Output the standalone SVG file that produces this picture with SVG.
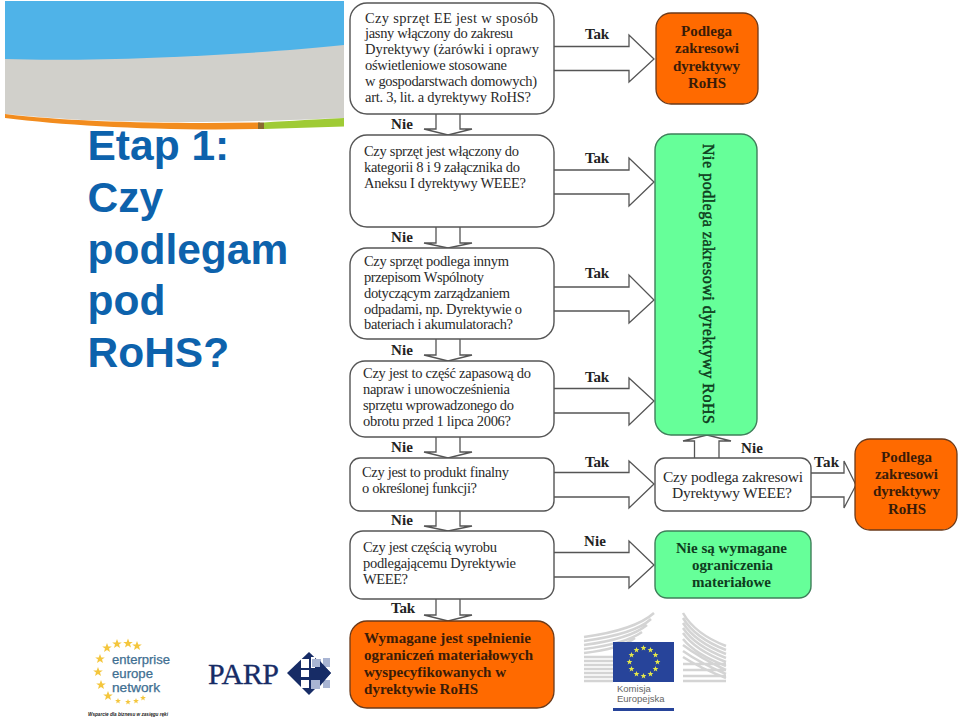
<svg xmlns="http://www.w3.org/2000/svg" width="960" height="721" viewBox="0 0 960 721">
<style>
.box{fill:#fff;stroke:#555;stroke-width:1.4}
.org{fill:#ff6a00;stroke:#6b3a1a;stroke-width:1.3}
.grn{fill:#66ff99;stroke:#3f7f5a;stroke-width:1.4}
.t{font-family:"Liberation Serif",serif;font-size:14.5px;fill:#2a2a2a}
.b{font-family:"Liberation Serif",serif;font-size:15px;font-weight:700;fill:#3a1c08}
.g{font-family:"Liberation Serif",serif;font-size:15px;font-weight:700;fill:#0f3d20}
.v{font-family:"Liberation Serif",serif;font-size:16px;font-weight:400;fill:#0f3d20;stroke:#0f3d20;stroke-width:.45}
.l{font-family:"Liberation Serif",serif;font-size:15px;font-weight:700;fill:#222}
.title{font-family:"Liberation Sans",Arial,sans-serif;font-size:42.500px;font-weight:700;fill:#0d62ac}
.arr{fill:#fff;stroke:#555;stroke-width:1.3}
.eu{font-family:"Liberation Sans",Arial,sans-serif;font-size:12px;fill:#3f6f92;stroke:#3f6f92;stroke-width:.25}
.wing{fill:none;stroke:#d4d4d4;stroke-width:2.5}
.star{fill:#f4c63d}
.star2{fill:#e6e84a}
</style>
<defs>
<polygon id="s" points="0,-5 1.3,-1.6 4.8,-1.500 2,.6 3,4 0,2 -3,4 -2,.6 -4.8,-1.500 -1.3,-1.6"/>
<polygon id="f" points="0,-3 .8,-1 2.900,-.9 1.200,.4 1.800,2.400 0,1.200 -1.800,2.400 -1.200,.4 -2.900,-.9 -.8,-1"/>
</defs>
<rect width="960" height="721" fill="#fff"/>

<g id="header">
<path d="M5 1H344V118C250 122 120 126 5 114Z" fill="#d1d0cb"/>
<path d="M5 1H344V45C250 55 100 62 5 59Z" fill="#4fb3e8"/>
<path d="M5 114C70 122 170 124 260 122.500V129C160 131 70 126 5 118Z" fill="#f28c1e"/>
<path d="M258 122.500L264 122.400V129H258Z" fill="#8a6a30"/>
<path d="M264 122.400C290 121 320 119 344 118V126.500L264 129Z" fill="#9fcb35"/>
</g>

<g id="title">
<text class="title" x="87.500" y="160">Etap 1:</text>
<text class="title" x="87.500" y="212">Czy</text>
<text class="title" x="87.500" y="264">podlegam</text>
<text class="title" x="87.500" y="315">pod</text>
<text class="title" x="87.500" y="367">RoHS?</text>
</g>

<g id="connectors">
<path class="arr" d="M554 46.500H629V35L654 59L629 82V70.500H554"/>
<path class="arr" d="M554 170H629V158L654 182L629 206V194H554"/>
<path class="arr" d="M554 287H629V275L654 300L629 323V311H554"/>
<path class="arr" d="M554 388.500H629V378L654 401L629 425V413H554"/>
<path class="arr" d="M554 472.500H629V461L654 484L629 508V497H554"/>
<path class="arr" d="M554 552.500H629V541L654 565L629 588V577H554"/>
<path class="arr" d="M811 473H844V461L856 485L844 508V497H811"/>
<path class="arr" d="M436 114V129H424L448 135L472 129H460V114"/>
<path class="arr" d="M436 227V243H424L448 248L472 243H460V227"/>
<path class="arr" d="M436 339V355H424L448 361L472 355H460V339"/>
<path class="arr" d="M436 437V452H424L448 458L472 452H460V437"/>
<path class="arr" d="M436 511V526H424L448 531L472 526H460V511"/>
<path class="arr" d="M436 599V615H424L448 621L472 615H460V599"/>
<path class="arr" d="M694.500 458V441H683L707 435L731 441H719V458"/>
<text class="l" x="585" y="39" textLength="24">Tak</text>
<text class="l" x="585" y="163" textLength="24">Tak</text>
<text class="l" x="585" y="278" textLength="24">Tak</text>
<text class="l" x="585" y="382" textLength="24">Tak</text>
<text class="l" x="585" y="467" textLength="24">Tak</text>
<text class="l" x="584" y="546" textLength="22">Nie</text>
<text class="l" x="391" y="129" textLength="22">Nie</text>
<text class="l" x="391" y="242" textLength="22">Nie</text>
<text class="l" x="391" y="355" textLength="22">Nie</text>
<text class="l" x="391" y="452" textLength="22">Nie</text>
<text class="l" x="391" y="525" textLength="22">Nie</text>
<text class="l" x="391" y="613" textLength="24">Tak</text>
<text class="l" x="741" y="453" textLength="22">Nie</text>
<text class="l" x="814" y="467" textLength="25">Tak</text>
</g>

<g id="q1">
<rect class="box" x="350" y="3" width="204" height="111" rx="17"/>
<text class="t" x="365" y="23" textLength="173">Czy sprzęt EE jest w sposób</text>
<text class="t" x="365" y="38" textLength="148">jasny włączony do zakresu</text>
<text class="t" x="365" y="54" textLength="174">Dyrektywy (żarówki i oprawy</text>
<text class="t" x="365" y="70" textLength="142">oświetleniowe stosowane</text>
<text class="t" x="365" y="86" textLength="172">w gospodarstwach domowych)</text>
<text class="t" x="365" y="102" textLength="166">art. 3, lit. a dyrektywy RoHS?</text>
</g>
<g id="q2">
<rect class="box" x="350" y="135" width="204" height="92" rx="17"/>
<text class="t" x="364" y="156" textLength="155">Czy sprzęt jest włączony do</text>
<text class="t" x="364" y="172" textLength="156">kategorii 8 i 9 załącznika do</text>
<text class="t" x="364" y="188" textLength="162">Aneksu I dyrektywy WEEE?</text>
</g>
<g id="q3">
<rect class="box" x="350" y="248" width="204" height="91" rx="17"/>
<text class="t" x="364" y="266" textLength="145">Czy sprzęt podlega innym</text>
<text class="t" x="364" y="282" textLength="120">przepisom Wspólnoty</text>
<text class="t" x="364" y="298" textLength="146">dotyczącym zarządzaniem</text>
<text class="t" x="364" y="314" textLength="158">odpadami, np. Dyrektywie o</text>
<text class="t" x="364" y="329" textLength="149">bateriach i akumulatorach?</text>
</g>
<g id="q4">
<rect class="box" x="350" y="361" width="204" height="76" rx="15"/>
<text class="t" x="363" y="378" textLength="168">Czy jest to część zapasową do</text>
<text class="t" x="363" y="394" textLength="147">napraw i unowocześnienia</text>
<text class="t" x="363" y="410" textLength="151">sprzętu wprowadzonego do</text>
<text class="t" x="363" y="426" textLength="148">obrotu przed 1 lipca 2006?</text>
</g>
<g id="q5">
<rect class="box" x="350" y="458" width="204" height="53" rx="10"/>
<text class="t" x="362" y="477" textLength="147">Czy jest to produkt finalny</text>
<text class="t" x="362" y="493" textLength="115">o określonej funkcji?</text>
</g>
<g id="q6">
<rect class="box" x="350" y="531" width="204" height="68" rx="13"/>
<text class="t" x="363" y="552" textLength="134">Czy jest częścią wyrobu</text>
<text class="t" x="363" y="568" textLength="153">podlegającemu Dyrektywie</text>
<text class="t" x="363" y="584" textLength="45">WEEE?</text>
</g>
<g id="r-wymagane">
<rect class="org" x="350" y="621" width="204" height="87" rx="17"/>
<text class="b" x="364" y="643" textLength="167">Wymagane jest spełnienie</text>
<text class="b" x="364" y="660" textLength="169">ograniczeń materiałowych</text>
<text class="b" x="364" y="677" textLength="142">wyspecyfikowanych w</text>
<text class="b" x="364" y="694" textLength="114">dyrektywie RoHS</text>
</g>
<g id="r-podlega-1">
<rect class="org" x="656" y="13" width="102" height="91" rx="15"/>
<text class="b" x="681" y="36" textLength="51">Podlega</text>
<text class="b" x="675" y="53" textLength="64">zakresowi</text>
<text class="b" x="673" y="71" textLength="67">dyrektywy</text>
<text class="b" x="688" y="88" textLength="38">RoHS</text>
</g>
<g id="r-nie-podlega">
<rect class="grn" x="655" y="134" width="102" height="301" rx="16"/>
<text class="v" transform="translate(703 144) rotate(90)" textLength="280">Nie podlega zakresowi dyrektywy RoHS</text>
</g>
<g id="q-weee">
<rect class="box" x="655" y="458" width="156" height="53" rx="10"/>
<text class="t" style="font-size:15.500px" x="663" y="482" textLength="140">Czy podlega zakresowi</text>
<text class="t" style="font-size:15.500px" x="672" y="498" textLength="120">Dyrektywy WEEE?</text>
</g>
<g id="r-podlega-2">
<rect class="org" x="855" y="439" width="102" height="91" rx="15"/>
<text class="b" x="881" y="462" textLength="51">Podlega</text>
<text class="b" x="875" y="479" textLength="63">zakresowi</text>
<text class="b" x="873" y="496" textLength="67">dyrektywy</text>
<text class="b" x="888" y="514" textLength="38">RoHS</text>
</g>
<g id="r-nie-sa">
<rect class="grn" x="655" y="531" width="156" height="67" rx="12"/>
<text class="g" x="676" y="553" textLength="111">Nie są wymagane</text>
<text class="g" x="692" y="570" textLength="81">ograniczenia</text>
<text class="g" x="692" y="587" textLength="79">materiałowe</text>
</g>

<g id="logo-een">
<use href="#s" class="star" x="117" y="644"/>
<use href="#s" class="star" x="128" y="643.500"/>
<use href="#s" class="star" x="107" y="648"/>
<use href="#s" class="star" x="137" y="646"/>
<use href="#s" class="star" x="100" y="659"/>
<use href="#s" class="star" x="98" y="672"/>
<use href="#s" class="star" x="101" y="685"/>
<use href="#s" class="star" x="108" y="696"/>
<use href="#f" class="star" x="118" y="701"/>
<use href="#f" class="star" x="128" y="702"/>
<use href="#f" class="star" x="136" y="701"/>
<use href="#f" class="star" x="143" y="698"/>
<text class="eu" x="112" y="664" textLength="58" lengthAdjust="spacingAndGlyphs">enterprise</text>
<text class="eu" x="112" y="678" textLength="41" lengthAdjust="spacingAndGlyphs">europe</text>
<text class="eu" x="112" y="692" textLength="48" lengthAdjust="spacingAndGlyphs">network</text>
<text x="88" y="716" textLength="80" lengthAdjust="spacingAndGlyphs" style="font-family:'Liberation Sans',Arial,sans-serif;font-size:5.500px;font-style:italic;font-weight:700;fill:#222">Wsparcie dla biznesu w zasięgu ręki</text>
</g>

<g id="logo-parp">
<text x="208" y="684" textLength="71" style="font-family:'Liberation Serif',serif;font-size:30px;fill:#172c66;stroke:#172c66;stroke-width:.3">PARP</text>
<path d="M309 652L287 673L309 695L331 673Z" fill="#172c66"/>
<path d="M301 659H309V668H301ZM301 670H309V677H301ZM301 680H309V688H301ZM311 657H315V668H311Z" fill="#fff"/>
<path d="M312 659H321V667H312ZM323 658H330V667H323ZM311 680H320V689H311ZM323 680H330V688H323Z" fill="#a9b5d3"/>
<path d="M310 668H320V661L331 673L320 686V679H310Z" fill="#172c66"/>
</g>

<g id="logo-ec">
<path class="wing" d="M584 637Q635 630 654 613M584 641Q635 634 651 619M584 645Q630 639 647 625M584 649Q625 644 642 632M584 653Q620 649 635 638M584 657H613M584 661H613M584 665H613M584 669H613M584 673H613M584 677H613M584 681H613"/>
<path class="wing" d="M683 613Q695 634 726 646M683 618Q695 638 726 650M683 623Q695 642 726 654M683 628Q695 646 726 658M683 633Q695 650 726 662M683 639Q695 654 726 666M683 645Q700 658 726 670M683 651Q700 663 726 674M683 657Q700 668 726 678M683 664H726M683 670H726M683 676H726M683 681H726"/>
<rect x="613" y="642" width="61" height="40" fill="#27449a"/>
<use href="#f" class="star2" x="643.500" y="648"/>
<use href="#f" class="star2" x="650.500" y="650"/>
<use href="#f" class="star2" x="655.500" y="655"/>
<use href="#f" class="star2" x="657.500" y="662"/>
<use href="#f" class="star2" x="655.500" y="669"/>
<use href="#f" class="star2" x="650.500" y="674"/>
<use href="#f" class="star2" x="643.500" y="676"/>
<use href="#f" class="star2" x="636.500" y="674"/>
<use href="#f" class="star2" x="631.500" y="669"/>
<use href="#f" class="star2" x="629.500" y="662"/>
<use href="#f" class="star2" x="631.500" y="655"/>
<use href="#f" class="star2" x="636.500" y="650"/>
<text x="617" y="692" style="font-family:'Liberation Sans',Arial,sans-serif;font-size:9.500px;fill:#666">Komisja</text>
<text x="617" y="702" style="font-family:'Liberation Sans',Arial,sans-serif;font-size:9.500px;fill:#666">Europejska</text>
<rect x="613" y="708" width="61" height="3" fill="#27449a"/>
</g>
</svg>
